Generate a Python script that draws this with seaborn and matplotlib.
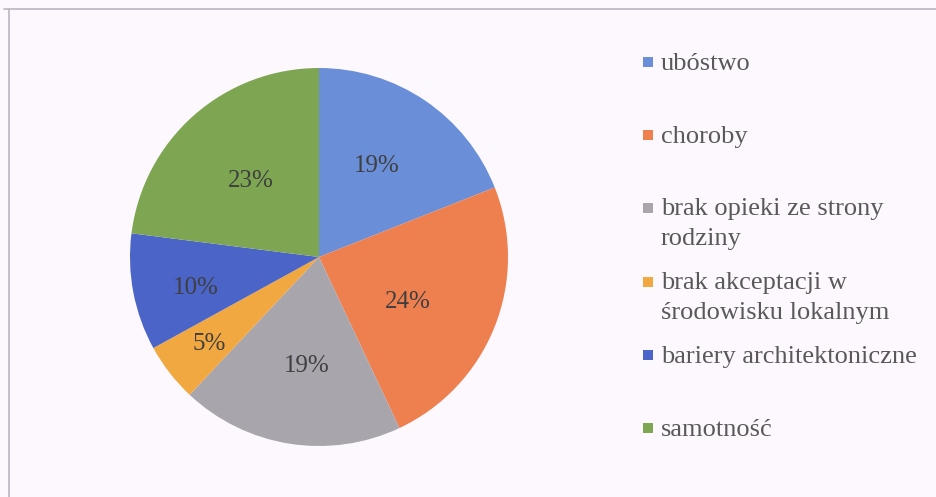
import numpy as np
import matplotlib
matplotlib.use("Agg")
import matplotlib.pyplot as plt
import seaborn as sns
from matplotlib.lines import Line2D
from matplotlib.patches import Rectangle

categories = ["ubóstwo", "choroby", "brak opieki ze strony\nrodziny",
              "brak akceptacji w\nśrodowisku lokalnym",
              "bariery architektoniczne", "samotność"]
shares = [19, 24, 19, 5, 10, 23]
colors = ["#6A8FD8", "#EE8050", "#A8A5AC", "#F2A840", "#4A64C8", "#7EA652"]

sns.set_theme(style="white")
FONT = "Liberation Serif"
plt.rcParams["font.family"] = [FONT, "DejaVu Serif"]

bg = "#FDF8FD"
fig = plt.figure(figsize=(9.36, 4.97), dpi=100, facecolor=bg)

W, H = 936, 497
cx, cy, r = 319, 257, 189
ax = fig.add_axes([(cx - r) / W, (H - cy - r) / H, 2 * r / W, 2 * r / H])
ax.set_facecolor(bg)

palette = sns.color_palette(colors)
wedges, texts, autotexts = ax.pie(
    shares, colors=palette, startangle=90, counterclock=False,
    autopct=lambda p: f"{p:.0f}%", pctdistance=0.55, radius=1,
    textprops=dict(fontsize=18, color="#3F3F3F", family=FONT),
    wedgeprops=dict(linewidth=0))
ax.set_xlim(-1, 1)
ax.set_ylim(-1, 1)
ax.axis("off")

# excel "best fit" label placement: radial distance and angle nudge (deg)
dists = [0.57, 0.53, 0.58, 0.74, 0.67, 0.54]
nudges = [1.6, -5.4, 2.8, 0.5, 3.4, 0.4]
for w, t, d, n in zip(wedges, autotexts, dists, nudges):
    ang = np.deg2rad((w.theta1 + w.theta2) / 2 + n)
    t.set_position((d * np.cos(ang), d * np.sin(ang)))
    t.set_va("center")

# legend drawn by hand to follow the original spacing
legend_y = [62, 135, 208, 282, 355, 428]
line_h = 30
for lab, col, y in zip(categories, palette, legend_y):
    fig.add_artist(Rectangle((643 / W, 1 - (y + 5) / H), 10 / W, 10 / H,
                             transform=fig.transFigure, color=col, lw=0))
    for i, part in enumerate(lab.split("\n")):
        fig.text(661 / W, 1 - (y - 1 + i * line_h) / H, part, fontsize=19,
                 color="#595959", family=FONT, ha="left", va="center_baseline")

fig.add_artist(Line2D([4 / W, 1], [1 - 9 / H, 1 - 9 / H], color="#BDB5C0", lw=1.2))
fig.add_artist(Line2D([9 / W, 9 / W], [0, 1 - 9 / H], color="#BDB5C0", lw=1.2))

fig.savefig("out.png", dpi=100, facecolor=bg)
